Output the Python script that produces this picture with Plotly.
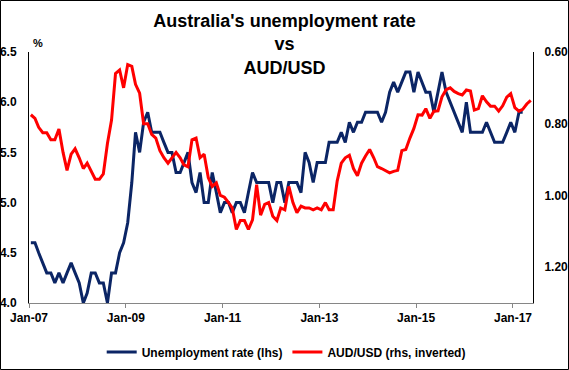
import plotly.graph_objects as go

# ---- data (monthly) ----
unemp_start = (2007, 1)
unemployment = [
    4.6, 4.6, 4.5, 4.4, 4.3, 4.3, 4.2, 4.3, 4.2, 4.3, 4.4, 4.3,   # 2007
    4.2, 4.0, 4.1, 4.3, 4.3, 4.2, 4.2, 4.0, 4.3, 4.3, 4.5, 4.6,   # 2008
    4.8, 5.2, 5.7, 5.5, 5.8, 5.9, 5.7, 5.7, 5.7, 5.6, 5.5, 5.5,   # 2009
    5.3, 5.3, 5.4, 5.5, 5.2, 5.1, 5.3, 5.0, 5.0, 5.3, 5.1, 4.9,   # 2010
    5.0, 5.0, 4.9, 5.0, 5.0, 4.9, 5.1, 5.3, 5.2, 5.2, 5.2, 5.2,   # 2011
    5.0, 5.2, 5.2, 5.0, 5.2, 5.2, 5.2, 5.1, 5.5, 5.4, 5.2, 5.4,   # 2012
    5.4, 5.4, 5.6, 5.6, 5.6, 5.7, 5.6, 5.8, 5.7, 5.8, 5.8, 5.9,   # 2013
    5.9, 5.9, 5.9, 5.8, 5.9, 6.1, 6.2, 6.1, 6.2, 6.3, 6.3, 6.1,   # 2014
    6.3, 6.2, 6.1, 6.1, 5.9, 6.1, 6.3, 6.1, 6.0, 5.9, 5.8, 5.7,   # 2015
    6.0, 5.7, 5.7, 5.7, 5.7, 5.8, 5.7, 5.6, 5.6, 5.6, 5.7, 5.8,   # 2016
    5.7, 5.9, 5.9,                                                # 2017
]
audusd = [
    0.775, 0.785, 0.81, 0.825, 0.825, 0.845, 0.845, 0.815, 0.88, 0.93, 0.885, 0.87,      # 2007
    0.895, 0.925, 0.91, 0.935, 0.955, 0.955, 0.94, 0.855, 0.79, 0.66, 0.65, 0.70,        # 2008
    0.635, 0.64, 0.69, 0.715, 0.80, 0.80, 0.83, 0.84, 0.875, 0.895, 0.91, 0.895,         # 2009
    0.88, 0.895, 0.915, 0.92, 0.845, 0.84, 0.895, 0.885, 0.95, 0.975, 0.965, 1.00,       # 2010
    1.005, 1.02, 1.035, 1.095, 1.07, 1.07, 1.095, 1.068, 0.97, 1.055, 1.025, 1.02,       # 2011
    1.058, 1.07, 1.035, 1.04, 0.975, 1.02, 1.048, 1.03, 1.035, 1.035, 1.04, 1.035,       # 2012
    1.04, 1.02, 1.04, 1.04, 0.96, 0.91, 0.895, 0.888, 0.925, 0.945, 0.91, 0.89,          # 2013
    0.872, 0.895, 0.92, 0.925, 0.93, 0.937, 0.933, 0.93, 0.875, 0.872, 0.84, 0.813,      # 2014
    0.775, 0.776, 0.758, 0.785, 0.765, 0.764, 0.725, 0.705, 0.70, 0.71, 0.716, 0.72,     # 2015
    0.706, 0.709, 0.762, 0.758, 0.722, 0.739, 0.751, 0.751, 0.765, 0.75, 0.726, 0.716,   # 2016
    0.755, 0.765, 0.76, 0.745, 0.735,                                                    # 2017
]
left_ticks = [4.0, 4.5, 5.0, 5.5, 6.0, 6.5]
right_ticks = [0.60, 0.80, 1.00, 1.20]
x_tick_dates = ["2007-01-01", "2009-01-01", "2011-01-01", "2013-01-01", "2015-01-01", "2017-01-01"]
x_tick_labels = ["Jan-07", "Jan-09", "Jan-11", "Jan-13", "Jan-15", "Jan-17"]


def month_dates(n, start=unemp_start):
    y, m = start
    out = []
    for _ in range(n):
        out.append(f"{y}-{m:02d}-15")
        m += 1
        if m > 12:
            m = 1
            y += 1
    return out


FONT = "Liberation Sans, Arial, sans-serif"
W, H = 569, 370
ML, MR, MT, MB = 29, 36, 52, 67
PW, PH = W - ML - MR, H - MT - MB

fig = go.Figure()
fig.add_trace(go.Scatter(
    x=month_dates(len(unemployment)), y=unemployment, mode="lines",
    name="Unemployment rate (lhs)", line=dict(color="#0B2565", width=3),
    yaxis="y"))
fig.add_trace(go.Scatter(
    x=month_dates(len(audusd)), y=audusd, mode="lines",
    name="AUD/USD (rhs, inverted)", line=dict(color="#FF0000", width=3),
    yaxis="y2"))

tickfont = dict(family=FONT, size=12, color="black", weight="bold")

fig.update_layout(
    width=W, height=H,
    margin=dict(l=ML, r=MR, t=MT, b=MB, pad=0, autoexpand=False),
    paper_bgcolor="white", plot_bgcolor="white",
    title=dict(
        text="Australia's unemployment rate<br>vs<br>AUD/USD",
        font=dict(family=FONT, size=18, color="black", weight="bold"),
        x=0.5, xref="container", xanchor="center",
        y=1 - 27 / H, yref="container", yanchor="top"),
    xaxis=dict(
        type="date", range=["2007-01-01", "2017-06-01"],
        tickvals=x_tick_dates, ticktext=x_tick_labels,
        tickfont=tickfont, showgrid=False, zeroline=False, automargin=False,
        showline=True, linecolor="#868686", linewidth=1,
        ticks="outside", ticklen=4, tickcolor="#868686"),
    yaxis=dict(
        range=[4.0, 6.5], tickvals=left_ticks, tickformat=".1f",
        tickfont=tickfont, showgrid=False, zeroline=False, automargin=False,
        showline=True, linecolor="black", linewidth=1, ticks="",
        ticklabelstandoff=9),
    yaxis2=dict(
        range=[1.3, 0.6], tickvals=right_ticks, tickformat=".2f",
        overlaying="y", side="right", automargin=False,
        tickfont=tickfont, showgrid=False, zeroline=False,
        showline=True, linecolor="black", linewidth=1, ticks="",
        ticklabelstandoff=8),
    showlegend=True,
    legend=dict(
        orientation="h", x=0.503, xref="container", xanchor="center",
        y=1 - 352 / H, yref="container", yanchor="middle",
        font=dict(family=FONT, size=12, color="black", weight="bold"),
        bgcolor="rgba(0,0,0,0)", itemwidth=30, tracegroupgap=0),
    annotations=[dict(
        text="%", xref="paper", yref="paper",
        x=(38 - ML) / PW, y=(H - MB - 43) / PH,
        showarrow=False, xanchor="center", yanchor="middle",
        font=dict(family=FONT, size=11, color="black", weight="bold"))],
    shapes=[dict(
        type="rect", xref="paper", yref="paper",
        x0=(0.5 - ML) / PW, x1=(W - 0.5 - ML) / PW,
        y0=-(MB - 0.5) / PH, y1=1 + (MT - 0.5) / PH,
        line=dict(color="black", width=1), fillcolor="rgba(0,0,0,0)",
        layer="above")],
)

fig.write_html(
    "out.html",
    config={"displayModeBar": False, "staticPlot": True},
    post_script="document.body.style.margin='0px';document.body.style.overflow='hidden';",
)
